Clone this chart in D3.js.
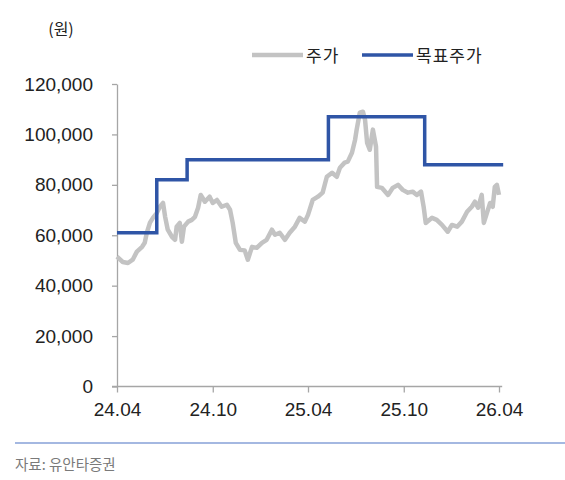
<!DOCTYPE html>
<html>
<head>
<meta charset="utf-8">
<script src="https://cdn.jsdelivr.net/npm/d3@7"></script>
<style>
  body { margin: 0; background: #fff; }
  .tick text { font-family: "Liberation Sans Narrow", "Arial Narrow", "Liberation Sans", sans-serif; font-size: 19px; fill: #222; }
  .kr { font-family: "Noto Sans CJK KR", sans-serif; }
</style>
</head>
<body>
<div class="chart"></div>
<script>
// Define SVG area dimensions
var svgWidth = 565;
var svgHeight = 480;

// Stock price (원)
var priceDates = [
    "2024-04-01", "2024-04-12", "2024-04-22", "2024-05-01", "2024-05-09", "2024-05-19",
    "2024-05-24", "2024-05-28", "2024-06-03", "2024-06-09", "2024-06-16", "2024-06-22",
    "2024-06-28", "2024-07-02", "2024-07-07", "2024-07-15", "2024-07-21", "2024-07-24",
    "2024-07-30", "2024-08-03", "2024-08-07", "2024-08-15", "2024-08-22", "2024-08-28",
    "2024-09-03", "2024-09-08", "2024-09-16", "2024-09-25", "2024-10-01", "2024-10-09",
    "2024-10-18", "2024-10-28", "2024-11-03", "2024-11-08", "2024-11-14", "2024-11-22",
    "2024-12-01", "2024-12-07", "2024-12-15", "2024-12-24", "2025-01-03", "2025-01-12",
    "2025-01-22", "2025-01-28", "2025-02-06", "2025-02-16", "2025-02-25", "2025-03-07",
    "2025-03-16", "2025-03-26", "2025-04-01", "2025-04-10", "2025-04-20", "2025-04-29",
    "2025-05-07", "2025-05-17", "2025-05-26", "2025-06-01", "2025-06-10", "2025-06-16",
    "2025-06-24", "2025-06-30", "2025-07-03", "2025-07-09", "2025-07-15", "2025-07-19",
    "2025-07-23", "2025-07-28", "2025-08-03", "2025-08-09", "2025-08-11", "2025-08-20",
    "2025-09-01", "2025-09-10", "2025-09-20", "2025-09-29", "2025-10-09", "2025-10-18",
    "2025-10-26", "2025-11-03", "2025-11-08", "2025-11-12", "2025-11-24", "2025-12-03",
    "2025-12-13", "2025-12-24", "2026-01-01", "2026-01-11", "2026-01-20", "2026-01-30",
    "2026-02-08", "2026-02-14", "2026-02-20", "2026-02-27", "2026-03-03", "2026-03-09",
    "2026-03-15", "2026-03-20", "2026-03-24", "2026-03-28", "2026-04-01"
];
var priceValues = [
    51500, 49400, 49000, 50300, 53500, 55400,
    57000, 61000, 65000, 67000, 68800, 71300,
    72800, 67300, 62200, 59400, 58200, 63400,
    64900, 57400, 63400, 65400, 66100, 67300,
    70900, 76000, 73300, 75300, 72800, 74000,
    71300, 72100, 70100, 65000, 57000, 54200,
    54000, 50300, 55400, 55000, 57000, 58200,
    62200, 60200, 61000, 58200, 61000, 63400,
    66900, 65400, 68100, 74000, 75300, 76900,
    83200, 84800, 83200, 86800, 88800, 89200,
    92700, 97900, 101900, 108600, 109000, 105800,
    96600, 93900, 101900, 95100, 79200, 78800,
    76000, 78800, 80000, 78000, 76900, 77300,
    76000, 77300, 71300, 64900, 66900, 66100,
    64100, 61400, 64100, 63400, 65400, 69300,
    71300, 73300, 70900, 76000, 64900, 68900,
    72800, 71300, 79200, 80000, 76000
];

// Target price (원), changes at each date
var targetDates = ["2024-04-01", "2024-06-16", "2024-08-13", "2025-05-10", "2025-11-10", "2026-04-09"];
var targetValues = [61000, 82000, 90000, 107000, 88000, 88000];

// Axis ticks
var yTicks = [0, 20000, 40000, 60000, 80000, 100000, 120000];
var xTicks = ["2024-04-01", "2024-10-01", "2025-04-01", "2025-10-01", "2026-04-01"];

var seriesNames = ["주가", "목표주가"];
var seriesColors = ["#c3c3c3", "#2f55a6"];

var parseDate = d3.timeParse("%Y-%m-%d");

var priceData = priceDates.map(function(d, i) {
    return { date: parseDate(d), value: priceValues[i] };
});
var targetData = targetDates.map(function(d, i) {
    return { date: parseDate(d), value: targetValues[i] };
});

var svg = d3
    .select(".chart")
    .append("svg")
    .attr("width", svgWidth)
    .attr("height", svgHeight);

// Scales
var xTimeScale = d3.scaleTime()
    .domain([parseDate("2024-04-01"), parseDate("2026-04-01")])
    .range([117, 499]);
var yLinearScale = d3.scaleLinear()
    .domain([0, 120000])
    .range([386.5, 84]);

var axisColor = "#a6a6a6";

// Y axis
var leftAxis = d3.axisLeft(yLinearScale)
    .tickValues(yTicks)
    .tickSize(5)
    .tickSizeOuter(0)
    .tickPadding(19)
    .tickFormat(d3.format(","));

var yAxisG = svg.append("g")
    .attr("transform", "translate(117,0)")
    .call(leftAxis);
yAxisG.selectAll("path, line").attr("stroke", axisColor).attr("stroke-width", 1.3);

// X axis
var bottomAxis = d3.axisBottom(xTimeScale)
    .tickValues(xTicks.map(parseDate))
    .tickSize(6)
    .tickSizeOuter(0)
    .tickPadding(10)
    .tickFormat(d3.timeFormat("%y.%m"));

var xAxisG = svg.append("g")
    .attr("transform", "translate(0," + yLinearScale(0) + ")")
    .call(bottomAxis);
xAxisG.select(".domain").remove();
xAxisG.selectAll("line").attr("stroke", axisColor).attr("stroke-width", 1.3);
xAxisG.append("line")
    .attr("x1", xTimeScale.range()[0] - 5)
    .attr("x2", xTimeScale(targetData[targetData.length - 1].date) - 1)
    .attr("stroke", axisColor)
    .attr("stroke-width", 1.3);

// Price line
var priceLine = d3.line()
    .x(function(d) { return xTimeScale(d.date); })
    .y(function(d) { return yLinearScale(d.value); });

svg.append("path")
    .datum(priceData)
    .attr("fill", "none")
    .attr("stroke", seriesColors[0])
    .attr("stroke-width", 4.5)
    .attr("stroke-linejoin", "round")
    .attr("d", priceLine);

// Target price step line
var targetLine = d3.line()
    .curve(d3.curveStepAfter)
    .x(function(d) { return xTimeScale(d.date); })
    .y(function(d) { return yLinearScale(d.value); });

svg.append("path")
    .datum(targetData)
    .attr("fill", "none")
    .attr("stroke", seriesColors[1])
    .attr("stroke-width", 3.5)
    .attr("d", targetLine);

// Unit label
svg.append("text")
    .attr("class", "kr")
    .attr("x", 61)
    .attr("y", 35)
    .attr("text-anchor", "middle")
    .style("font-size", "16px")
    .attr("fill", "#222")
    .text("(원)");

// Legend
var legendX = [252, 362];
var legend = svg.selectAll(".legend")
    .data(seriesNames)
    .enter()
    .append("g")
    .attr("class", "legend")
    .attr("transform", function(d, i) { return "translate(" + legendX[i] + ",55)"; });

legend.append("line")
    .attr("x1", 0)
    .attr("x2", 51)
    .attr("stroke", function(d, i) { return seriesColors[i]; })
    .attr("stroke-width", function(d, i) { return i === 0 ? 4.5 : 3.5; });

legend.append("text")
    .attr("class", "kr")
    .attr("x", 54)
    .attr("y", 7)
    .style("font-size", "17px")
    .style("letter-spacing", "1px")
    .attr("fill", "#222")
    .text(function(d) { return d; });

// Source divider and note
svg.append("line")
    .attr("x1", 15)
    .attr("x2", 565)
    .attr("y1", 443)
    .attr("y2", 443)
    .attr("stroke", "#4a72c4")
    .attr("stroke-width", 1.2);

svg.append("text")
    .attr("class", "kr")
    .attr("x", 15)
    .attr("y", 470)
    .style("font-size", "14.5px")
    .attr("fill", "#7a7a7a")
    .text("자료: 유안타증권");
</script>
</body>
</html>
